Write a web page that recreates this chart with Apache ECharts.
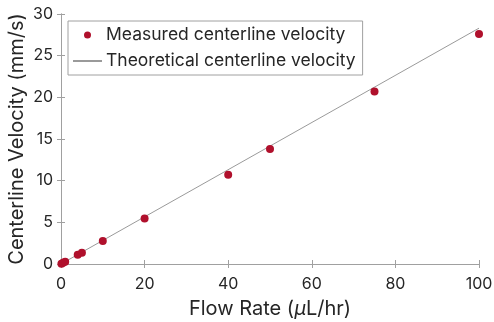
<!DOCTYPE html>
<html><head><meta charset="utf-8">
<script src="https://cdn.jsdelivr.net/npm/echarts@6/dist/echarts.min.js"></script>
<style>html,body{margin:0;padding:0;background:#fff}#c{width:494px;height:322px}</style>
</head><body><div id="c"></div>
<script>
const flowRate = [0.1, 0.5, 1, 4, 5, 10, 20, 40, 50, 75, 100];
const measuredVelocity = [0.03, 0.14, 0.28, 1.1, 1.35, 2.75, 5.45, 10.7, 13.8, 20.7, 27.6];
const theoryFlow = [0, 100];
const theoryVelocity = [0, 28.3];
const xTicks = [0, 20, 40, 60, 80, 100];
const yTicks = [0, 5, 10, 15, 20, 25, 30];

const F = 'Inter, "Liberation Sans", Arial, sans-serif';
const axisCol = '#a0a0a0';
const txtCol = '#262626';
const chart = echarts.init(document.getElementById('c'));
const baseAxis = {
  axisLine: {show: true, lineStyle: {color: axisCol, width: 1}},
  axisTick: {show: true, inside: true, length: 4, lineStyle: {color: axisCol}},
  splitLine: {show: false},
};
chart.setOption({
  animation: false,
  grid: {left: 61, right: 15, top: 14, bottom: 58, containLabel: false, outerBoundsMode: 'none'},
  legend: {
    left: 68, top: 21, orient: 'vertical',
    padding: [5, 7, 5, 4],
    itemWidth: 29, itemHeight: 7, itemGap: 8,
    borderColor: '#a0a0a0', borderWidth: 1, backgroundColor: '#fff',
    textStyle: {fontFamily: F, fontSize: 17.5, color: txtCol, padding: [0,0,0,-1]},
    data: [
      {name: 'Measured centerline velocity'},
      {name: 'Theoretical centerline velocity', itemStyle: {opacity: 0}}
    ]
  },
  xAxis: [
    Object.assign({}, baseAxis, {
      type: 'value', min: 0, max: 100, interval: 20, position: 'bottom',
      name: 'Flow Rate ({it|\u03bc}L/hr)', nameLocation: 'middle', nameGap: 35,
      nameTextStyle: {fontFamily: F, fontSize: 20, color: txtCol, rich: {it: {fontFamily: F, fontSize: 20, fontStyle: 'italic', color: txtCol}}},
      axisLabel: {fontFamily: F, fontSize: 16, color: txtCol, margin: 12,
        formatter: v => xTicks.includes(v) ? String(v) : ''}
    }),
    Object.assign({}, baseAxis, {
      type: 'value', min: 0, max: 100, interval: 20, position: 'top',
      axisLabel: {show: false}
    })
  ],
  yAxis: [
    Object.assign({}, baseAxis, {
      type: 'value', min: 0, max: 30, interval: 5, position: 'left',
      name: 'Centerline Velocity (mm/s)', nameLocation: 'middle', nameGap: 34,
      nameMoveOverlap: false,
      nameTextStyle: {fontFamily: F, fontSize: 20, color: txtCol},
      axisLabel: {fontFamily: F, fontSize: 16, color: txtCol, margin: 8,
        formatter: v => yTicks.includes(v) ? String(v) : ''}
    }),
    Object.assign({}, baseAxis, {
      type: 'value', min: 0, max: 30, interval: 5, position: 'right',
      axisLabel: {show: false}
    })
  ],
  series: [
    {
      name: 'Theoretical centerline velocity', type: 'line',
      data: theoryFlow.map((x, i) => [x, theoryVelocity[i]]),
      symbol: 'none', lineStyle: {color: '#9a9a9a', width: 1}, itemStyle: {color: '#9a9a9a'},
      z: 2
    },
    {
      name: 'Measured centerline velocity', type: 'scatter',
      data: flowRate.map((x, i) => [x, measuredVelocity[i]]),
      symbol: 'circle', symbolSize: 8,
      itemStyle: {color: '#b0102c', opacity: 1},
      z: 3
    }
  ]
});
</script></body></html>
